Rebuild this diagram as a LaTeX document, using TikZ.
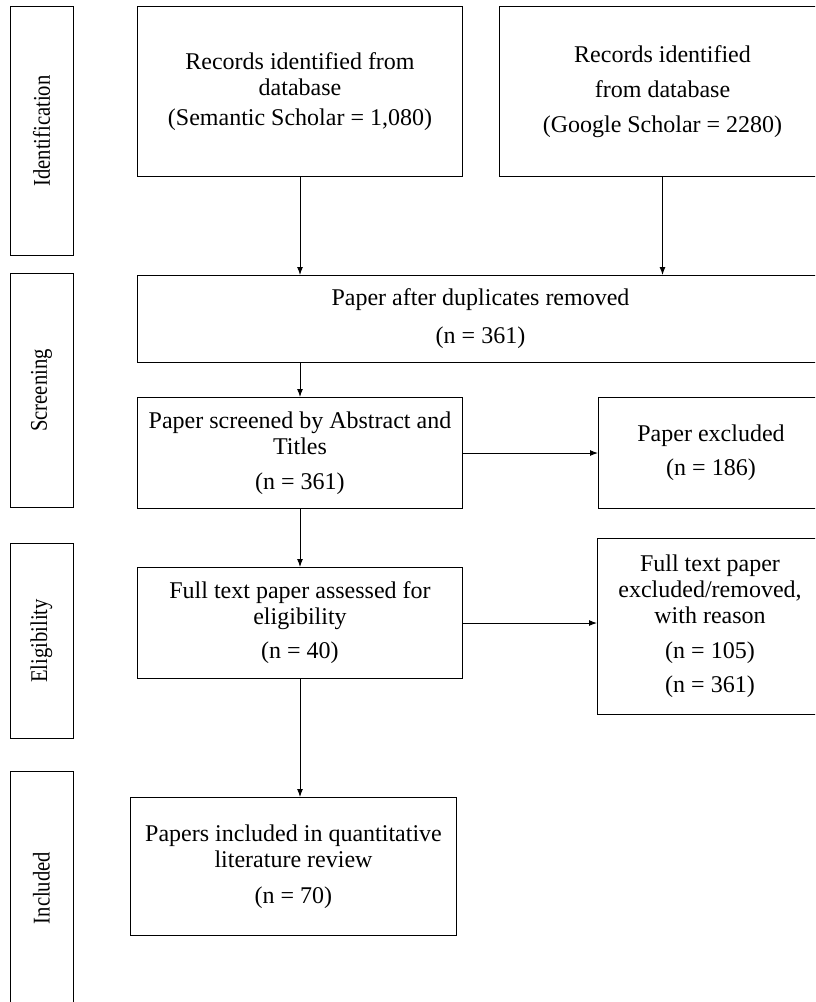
\documentclass[tikz,border=0pt]{standalone}
\usepackage{fontspec}
\setmainfont{Liberation Serif}
\usetikzlibrary{arrows.meta, positioning}

\begin{document}
\begin{tikzpicture}[
	x=1pt, y=1pt,
	every node/.style={font=\fontsize{12}{13}\selectfont},
	box/.style={rectangle, draw=black, line width=0.5pt, anchor=north west, align=center, inner sep=2pt},
	stage/.style={rectangle, draw=black, line width=0.5pt, rotate=90, xscale=0.86, minimum height=31.5pt, font=\fontsize{12}{13}\selectfont},
	arrow/.style={-{Latex[length=4pt, width=3pt]}, line width=0.5pt}
]
\clip (0,0) rectangle (407.5,-501);

% Stages on the left
\node[stage, minimum width=145pt] (ident) at (20.75,-65.5) {Identification};
\node[stage, minimum width=136.5pt] (screen) at (20.75,-195.25) {Screening};
\node[stage, minimum width=113pt] (elig) at (20.75,-320.5) {Eligibility};
\node[stage, minimum width=136pt] (incl) at (20.75,-444) {Included};

% Identification
\node[box, minimum width=162.5pt, minimum height=85pt] (semsch) at (68.5,-3) {Records identified from\\ database\\[2pt] (Semantic Scholar = 1,080)};
\node[box, minimum width=163pt, minimum height=85pt, right=18pt of semsch] (goosch) {Records identified\\[4.5pt] from database\\[4.5pt] (Google Scholar = 2280)};

% Screening
\node[box, minimum width=343pt, minimum height=43.5pt] (dedup) at (68.5,-137.5) {Paper after duplicates removed\\[6pt] (n = 361)};
\node[box, minimum width=162.5pt, minimum height=55.5pt] (screened) at (68.5,-198.5) {Paper screened by Abstract and\\ Titles\\[4.5pt] (n = 361)};
\node[box, minimum width=112.5pt, minimum height=55.5pt, right=67.5pt of screened] (excl) {Paper excluded\\[4pt] (n = 186)};

% Eligibility
\node[box, minimum width=162.5pt, minimum height=55.5pt] (fulltext) at (68.5,-283.5) {Full text paper assessed for\\ eligibility\\[4pt] (n = 40)};
\node[box, minimum width=112.5pt, minimum height=88pt] (exclfull) at (298.5,-269) {Full text paper\\ excluded/removed,\\ with reason\\[4.5pt] (n = 105)\\[4pt] (n = 361)};

% Included
\node[box, minimum width=163pt, minimum height=69pt] (final) at (65,-398.5) {Papers included in quantitative\\ literature review\\[5pt] (n = 70)};

% Arrows
\draw[arrow] (semsch.south) -- (semsch.south |- dedup.north);
\draw[arrow] (goosch.south) -- (goosch.south |- dedup.north);
\draw[arrow] (screened.north |- dedup.south) -- (screened.north);
\draw[arrow] (screened.east) -- (excl.west);
\draw[arrow] (screened.south) -- (fulltext.north);
\draw[arrow] (fulltext.east) -- (fulltext.east -| exclfull.west);
\draw[arrow] (fulltext.south) -- (fulltext.south |- final.north);

\end{tikzpicture}
\end{document}
